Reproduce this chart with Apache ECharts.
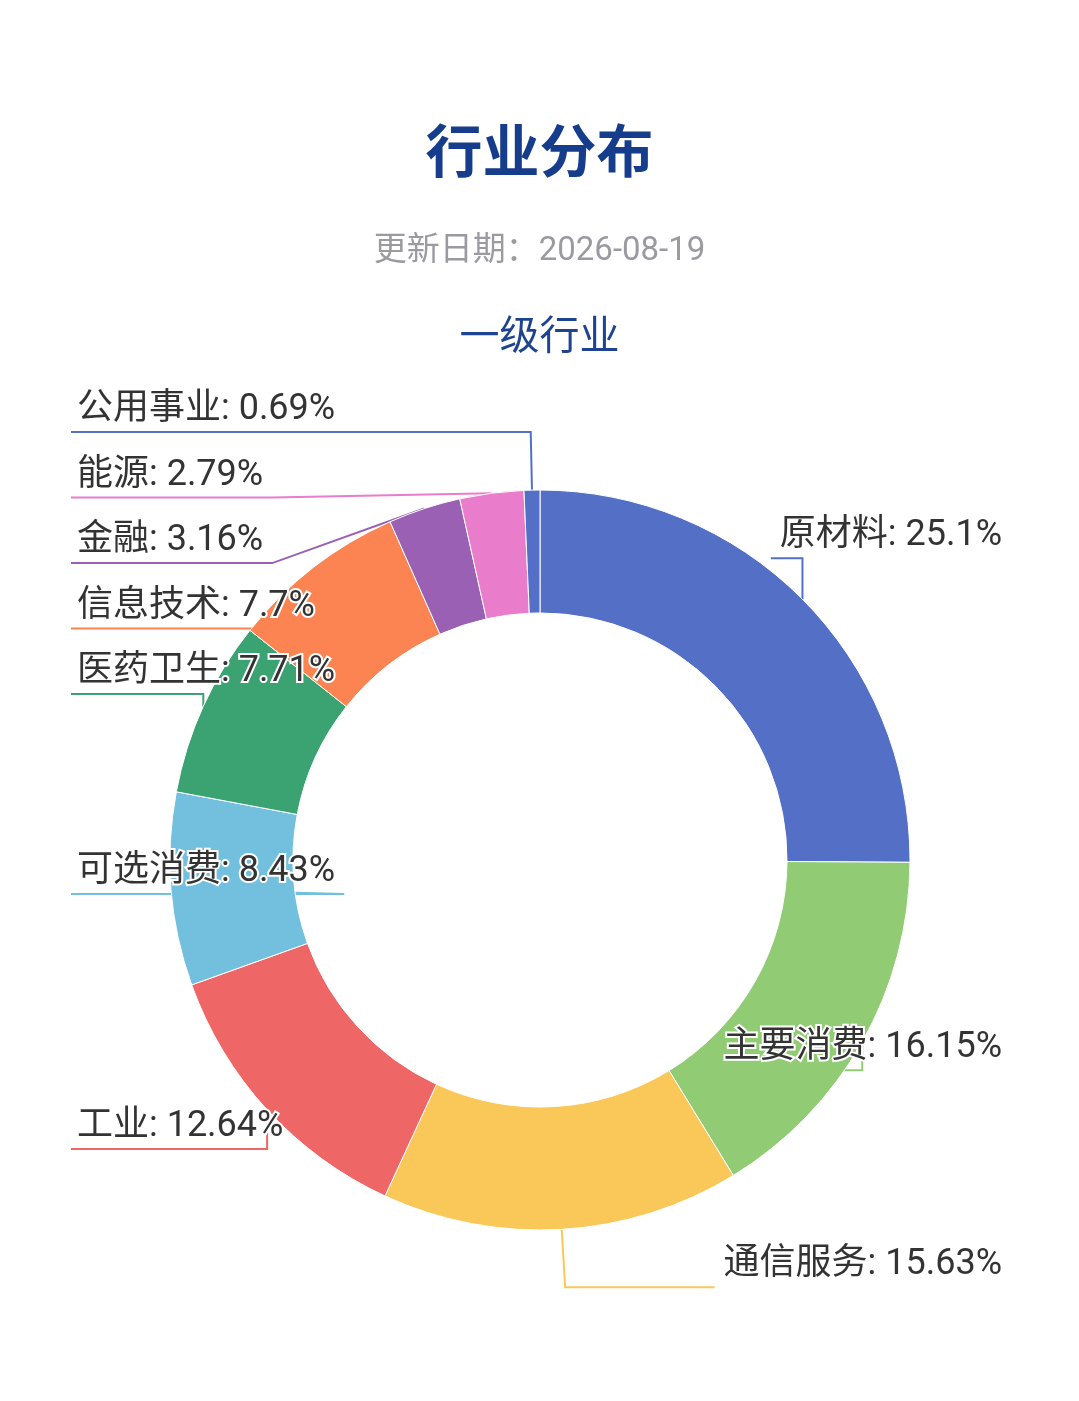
<!DOCTYPE html>
<html>
<head>
<meta charset="utf-8">
<title>行业分布</title>
<script src="https://cdn.jsdelivr.net/npm/echarts@6/dist/echarts.min.js"></script>
<style>
    html, body { margin: 0; padding: 0; background: #fff; }
    #industry-pie { width: 1079px; height: 1401px; }
</style>
</head>
<body>
<div id="industry-pie"></div>
<script>
/**
 * industry pie
 */

var FONT = "Roboto, 'Noto Sans CJK SC', sans-serif";

var chart_title = '行业分布';
var update_date = '2026-08-19';
var level_name = '一级行业';

var industries = ['原材料', '主要消费', '通信服务', '工业', '可选消费', '医药卫生', '信息技术', '金融', '能源', '公用事业'];
var weights = [25.1, 16.15, 15.63, 12.64, 8.43, 7.71, 7.7, 3.16, 2.79, 0.69];

var palette = ['#5470c6', '#91cc75', '#fac858', '#ee6666', '#73c0de', '#3ba272', '#fc8452', '#9a60b4', '#ea7ccc'];

var pie_data = industries.map(function (name, i) {
    return { name: name, value: weights[i] };
});

var industry_pie = echarts.init(document.getElementById('industry-pie'));

industry_pie.setOption({
    animation: false,
    backgroundColor: '#fff',
    color: palette,
    title: [
        {
            text: chart_title,
            left: 'center',
            top: 129,
            padding: 0,
            textStyle: { fontSize: 57, fontWeight: 'bold', color: '#163d8c', fontFamily: FONT }
        },
        {
            text: '更新日期：' + update_date,
            left: 'center',
            top: 235,
            padding: 0,
            textStyle: { fontSize: 33, fontWeight: 'normal', color: '#9a9aa0', fontFamily: FONT }
        },
        {
            text: level_name,
            left: 'center',
            top: 319,
            padding: 0,
            textStyle: { fontSize: 40, fontWeight: 'normal', color: '#1e4391', fontFamily: FONT }
        }
    ],
    series: [
        {
            name: level_name,
            type: 'pie',
            center: [540, 860],
            radius: [247, 370],
            startAngle: 90,
            clockwise: true,
            avoidLabelOverlap: true,
            itemStyle: { borderColor: '#fff', borderWidth: 1 },
            label: {
                show: true,
                position: 'outside',
                alignTo: 'edge',
                edgeDistance: 77,
                distanceToLabelLine: 5,
                minMargin: 23.5,
                formatter: '{b}: {c}%',
                fontSize: 36,
                lineHeight: 42,
                fontFamily: FONT,
                color: '#333',
                textBorderColor: '#fff',
                textBorderWidth: 4
            },
            labelLine: {
                show: true,
                length: 58,
                // negative so the edge labels keep their full width
                length2: -400,
                minTurnAngle: 90,
                maxSurfaceAngle: 80,
                lineStyle: { width: 2 }
            },
            labelLayout: function (params) {
                var rect = params.labelRect;
                var points = params.labelLinePoints;
                if (!points) {
                    return {};
                }
                var isLeft = rect.x < industry_pie.getWidth() / 2;
                if (isLeft) {
                    points[2][0] = rect.x - 4;
                }
                // text sits on top of its line
                return {
                    labelLinePoints: points,
                    dy: -(rect.height / 2) - 1
                };
            },
            data: pie_data
        }
    ]
});
</script>
</body>
</html>
